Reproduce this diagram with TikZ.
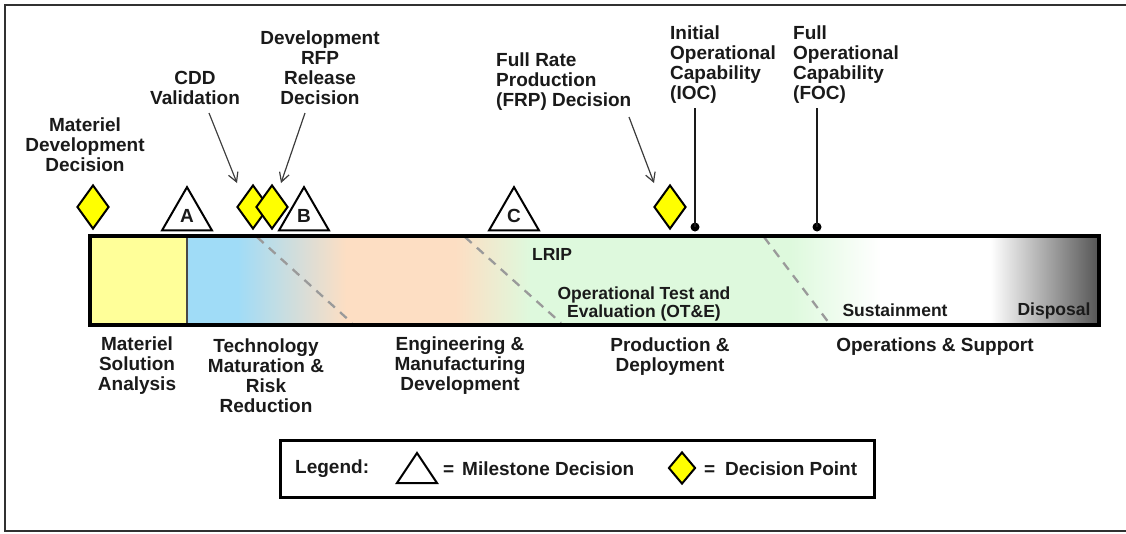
\documentclass[tikz,border=0pt]{standalone}
\usepackage{fontspec}
\setmainfont{Liberation Sans}
\usetikzlibrary{shapes.geometric,arrows.meta}
\definecolor{ink}{HTML}{1A1A1A}
\definecolor{baryellow}{HTML}{FFFF99}
\definecolor{dyellow}{HTML}{FFFF00}
\definecolor{barblue}{HTML}{A0DCF7}
\definecolor{barpeach}{HTML}{FDDEC3}
\definecolor{bargreen}{HTML}{DEF9DD}
\definecolor{bardark}{HTML}{555555}
\definecolor{dashgray}{HTML}{9A9A9A}
\begin{document}
\begin{tikzpicture}[x=1pt,y=-1pt,
  lbl/.style={font=\bfseries\fontsize{19}{20}\selectfont, align=center, inner sep=0pt, text=ink},
  lblleft/.style={lbl, align=left, anchor=west},
  sml/.style={font=\bfseries\fontsize{17.5}{16}\selectfont, align=center, inner sep=0pt, text=ink},
  dpoint/.style={diamond, draw=black, line width=2pt, fill=dyellow, inner sep=0pt, minimum width=32pt, minimum height=44pt},
  mstone/.style={regular polygon, regular polygon sides=3, draw=black, line width=2pt, fill=white, inner sep=0pt, minimum size=57.7pt, font=\bfseries\fontsize{19}{20}\selectfont, text=ink},
  callout/.style={draw=ink!85, line width=1.2pt, -{Straight Barb[length=9pt,width=10pt]}},
  capline/.style={draw=ink, line width=2pt},
  capdot/.style={circle, fill=black, inner sep=0pt, minimum size=9pt},
  phasedash/.style={draw=dashgray, line width=2.3pt, dash pattern=on 9pt off 7pt},
]
\useasboundingbox (0,0) rectangle (1126,533);
% outer frame
\draw[line width=2.5pt, draw=ink!90] (5,5) rectangle (1140,531);

% ---------- main bar ----------
\fill[baryellow] (90,236) rectangle (187,325);
\fill[barblue] (187,236) rectangle (238,325);
\shade[left color=barblue, right color=barpeach] (237.5,236) rectangle (346,325);
\fill[barpeach] (345.5,236) rectangle (456,325);
\shade[left color=barpeach, right color=bargreen] (455.5,236) rectangle (531,325);
\fill[bargreen] (530.5,236) rectangle (791,325);
\shade[left color=bargreen, right color=white] (790.5,236) rectangle (881,325);
\fill[white] (880.5,236) rectangle (991,325);
\shade[left color=white, right color=bardark] (990.5,236) rectangle (1099,325);

\coordinate (d1a) at (257,237); \coordinate (d1b) at (352,323);
\coordinate (d2a) at (465,237); \coordinate (d2b) at (561,323);
\coordinate (d3a) at (764,237); \coordinate (d3b) at (829,323);
\draw[phasedash] (d1a) -- (d1b);
\draw[phasedash] (d2a) -- (d2b);
\draw[phasedash] (d3a) -- (d3b);

\draw[draw=ink!80, line width=2pt] (187,236) -- (187,325);
\draw[line width=3.5pt, draw=black] (90,236) rectangle (1099,325);

% labels inside bar
\node[sml] (lrip) at (552,254) {LRIP};
\node[sml] (ote) at (644,304) {Operational Test and\\Evaluation (OT\&E)};
\node[sml] (sust) at (895,310) {Sustainment};
\node[sml] (disp) at (1054,311) {Disposal};

% ---------- decision points and milestones ----------
\node[dpoint] (mddD) at (93,207) {};
\node[mstone] (msA) at (187,216) {A};
\node[dpoint] (cddD) at (253,207) {};
\node[dpoint] (rfpD) at (272,207) {};
\node[mstone] (msB) at (304,216) {B};
\node[mstone] (msC) at (514,216) {C};
\node[dpoint] (frpD) at (670,207) {};

% top labels
\node[lbl] (mddT) at (85,145) {Materiel\\Development\\Decision};
\node[lbl] (cddT) at (195,88) {CDD\\Validation};
\node[lbl] (rfpT) at (320,68) {Development\\RFP\\Release\\Decision};
\node[lblleft] (frpT) at (496,82) {Full Rate\\Production\\(FRP) Decision};
\node[lblleft] (iocT) at (670,65) {Initial\\Operational\\Capability\\(IOC)};
\node[lblleft] (focT) at (793,65) {Full\\Operational\\Capability\\(FOC)};

% callout arrows
\coordinate (cddS) at (209,113); \coordinate (cddE) at (237,183);
\coordinate (rfpS) at (305,113); \coordinate (rfpE) at (281,183);
\coordinate (frpS) at (629,117); \coordinate (frpE) at (654,183);
\draw[callout] (cddS) -- (cddE);
\draw[callout] (rfpS) -- (rfpE);
\draw[callout] (frpS) -- (frpE);

% IOC / FOC markers
\coordinate (iocS) at (695,108);
\coordinate (focS) at (817,108);
\node[capdot] (iocD) at (695,227) {};
\node[capdot] (focD) at (817,227) {};
\draw[capline] (iocS) -- (iocD.center);
\draw[capline] (focS) -- (focD.center);

% bottom phase labels
\node[lbl] (msa) at (137,366) {Materiel\\Solution\\Analysis};
\node[lbl] (tmrr) at (266,376) {Technology\\Maturation \&\\Risk\\Reduction};
\node[lbl] (emd) at (460,366) {Engineering \&\\Manufacturing\\Development};
\node[lbl] (pd) at (670,357) {Production \&\\Deployment};
\node[lbl] (os) at (935,347) {Operations \& Support};

% ---------- legend ----------
\draw[line width=3pt, draw=black] (280,440) rectangle (874,497);
\node[lblleft] (legT) at (295,469) {Legend:};
\coordinate (lt1) at (417,453); \coordinate (lt2) at (437,483); \coordinate (lt3) at (397,483);
\draw[line width=2pt, draw=black, line join=miter] (lt1) -- (lt2) -- (lt3) -- cycle;
\node[lblleft] (eq1) at (443,471) {=};
\node[lblleft] (legM) at (462,469) {Milestone Decision};
\node[dpoint, minimum width=27pt, minimum height=32pt] (legD) at (682,468) {};
\node[lblleft] (eq2) at (704,471) {=};
\node[lblleft] (legP) at (725,469) {Decision Point};
\end{tikzpicture}
\end{document}
